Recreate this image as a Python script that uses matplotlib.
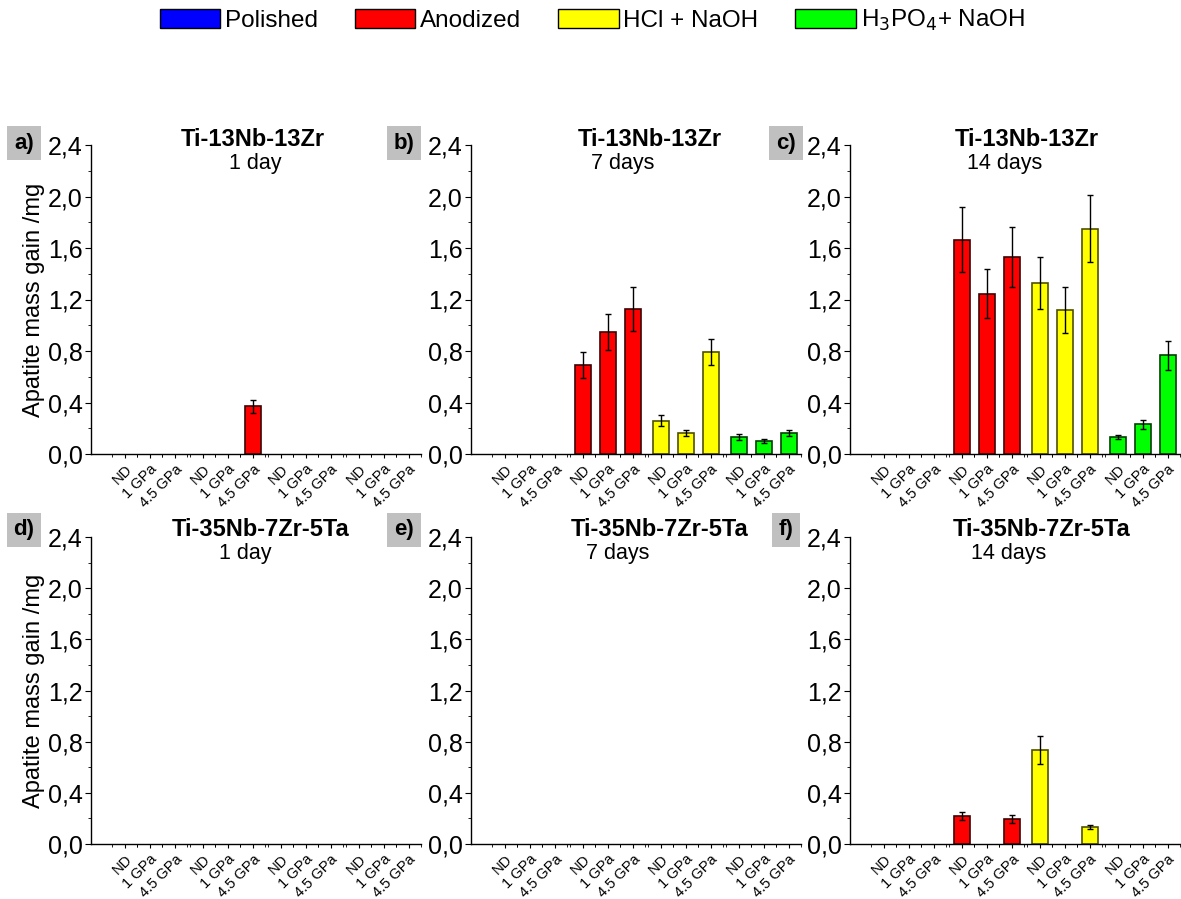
import numpy as np
import matplotlib
matplotlib.use("Agg")
import matplotlib.pyplot as plt
from matplotlib.patches import Patch
from matplotlib.ticker import FuncFormatter, MultipleLocator

plt.rcParams['font.family'] = ['Liberation Sans', 'DejaVu Sans']

treatments = ['Polished', 'Anodized', 'HCl + NaOH', 'H$_3$PO$_4$+ NaOH']
pressures = ['ND', '1 GPa', '4.5 GPa']
colors = ['#0000ff', '#ff0000', '#ffff00', '#00ff00']
edges = ['#000060', '#400000', '#505000', '#004000']

alloys = ['Ti-13Nb-13Zr', 'Ti-35Nb-7Zr-5Ta']
times = ['1 day', '7 days', '14 days']
panel_tags = ['a)', 'b)', 'c)', 'd)', 'e)', 'f)']

# values per panel: Polished(ND,1,4.5), Anodized, HCl+NaOH, H3PO4+NaOH ; 0 = no deposit
vals_a = [0, 0, 0, 0, 0, 0.37, 0, 0, 0, 0, 0, 0]
errs_a = [0, 0, 0, 0, 0, 0.05, 0, 0, 0, 0, 0, 0]
vals_b = [0, 0, 0, 0.69, 0.95, 1.125, 0.26, 0.165, 0.79, 0.13, 0.098, 0.165]
errs_b = [0, 0, 0, 0.10, 0.14, 0.17, 0.04, 0.025, 0.10, 0.024, 0.016, 0.025]
vals_c = [0, 0, 0, 1.665, 1.245, 1.53, 1.33, 1.12, 1.75, 0.132, 0.23, 0.766]
errs_c = [0, 0, 0, 0.25, 0.19, 0.23, 0.20, 0.18, 0.26, 0.018, 0.034, 0.11]
vals_d = [0] * 12
errs_d = [0] * 12
vals_e = [0] * 12
errs_e = [0] * 12
vals_f = [0, 0, 0, 0.221, 0, 0.197, 0.733, 0, 0.132, 0, 0, 0]
errs_f = [0, 0, 0, 0.03, 0, 0.03, 0.11, 0, 0.018, 0, 0, 0]

all_vals = [vals_a, vals_b, vals_c, vals_d, vals_e, vals_f]
all_errs = [errs_a, errs_b, errs_c, errs_d, errs_e, errs_f]

W, H = 1181, 899
fig = plt.figure(figsize=(W / 100, H / 100), dpi=100)

lefts = [91, 471, 850]
row_y = [(145, 454), (537, 844)]  # top px, bottom px
axw = 330

xpos = np.array([g * 3.12 + i for g in range(4) for i in range(3)])
bar_w = 0.64

# title positions (px): bold title center, subtitle center
title_x = [[253, 650, 1027], [261, 660, 1042]]
sub_x = [[255, 623, 1005], [245, 618, 1009]]
title_y = [140, 529]
sub_y = [164, 553]
tag_x = [24, 404, 786]
tag_y = [143, 530]

for k in range(6):
    r, c = divmod(k, 3)
    top, bot = row_y[r]
    ax = fig.add_axes([lefts[c] / W, 1 - bot / H, axw / W, (bot - top) / H])
    vals = np.array(all_vals[k])
    errs = np.array(all_errs[k])
    for g in range(4):
        for i in range(3):
            j = g * 3 + i
            if vals[j] > 0:
                ax.bar(xpos[j], vals[j], width=bar_w, color=colors[g],
                       edgecolor=edges[g], linewidth=1.2, zorder=2)
                ax.errorbar(xpos[j], vals[j], yerr=errs[j], color='black',
                            elinewidth=1, capsize=2, capthick=1, zorder=3)
    ax.set_ylim(0, 2.4)
    ax.set_xlim(-1.36, -1.36 + axw / 25)
    for s in ['top', 'right']:
        ax.spines[s].set_visible(False)
    ax.spines['left'].set_linewidth(1)
    ax.spines['bottom'].set_linewidth(1)
    ax.yaxis.set_major_locator(MultipleLocator(0.4))
    ax.yaxis.set_minor_locator(MultipleLocator(0.2))
    ax.yaxis.set_major_formatter(FuncFormatter(lambda v, p: f"{v:.1f}".replace('.', ',')))
    ax.tick_params(axis='y', which='major', length=4, labelsize=18, pad=2)
    ax.tick_params(axis='y', which='minor', length=2)
    ax.set_xticks(xpos)
    ax.set_xticks(np.concatenate([xpos - 0.5, xpos + 0.5]), minor=True)
    ax.set_xticklabels(pressures * 4, rotation=45, ha='right',
                       rotation_mode='anchor', fontsize=10.5)
    ax.tick_params(axis='x', which='major', length=3, pad=3)
    ax.tick_params(axis='x', which='minor', length=2)
    if c == 0:
        ax.set_ylabel('Apatite mass gain /mg', fontsize=17, labelpad=2)

    fig.text(title_x[r][c] / W, 1 - title_y[r] / H, alloys[r],
             ha='center', va='center', fontsize=17, fontweight='bold')
    fig.text(sub_x[r][c] / W, 1 - sub_y[r] / H, times[c],
             ha='center', va='center', fontsize=15.5)
    fig.text(tag_x[c] / W, 1 - tag_y[r] / H, panel_tags[k],
             ha='center', va='center', fontsize=16, fontweight='bold',
             bbox=dict(boxstyle='square,pad=0.3', facecolor='#c0c0c0',
                       edgecolor='none'))

handles = [Patch(facecolor=colors[g], edgecolor='black', linewidth=1)
           for g in range(4)]
fig.legend(handles, treatments, loc='center', bbox_to_anchor=(0.5015, 0.977),
           ncol=4, frameon=False, fontsize=17.5, handlelength=2.5,
           handleheight=0.85, handletextpad=0.2, columnspacing=1.5)

fig.savefig('out.png', dpi=100)
